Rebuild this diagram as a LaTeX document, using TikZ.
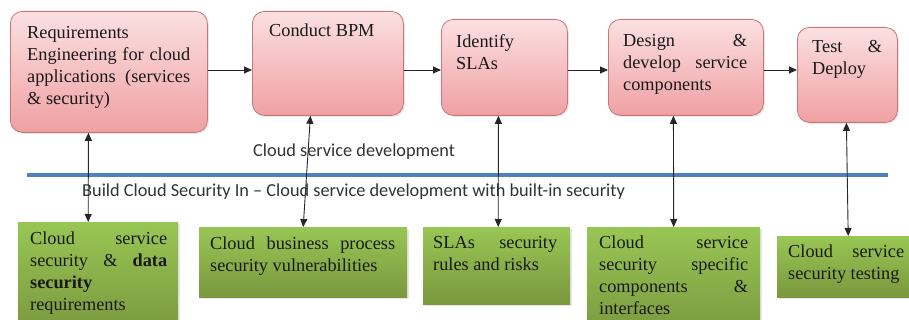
\documentclass[tikz,border=0pt]{standalone}
\usepackage{fontspec}
\setmainfont{Liberation Serif}
\newfontfamily\calibri{Carlito}
\usetikzlibrary{arrows.meta,shadows}

\definecolor{pinktop}{RGB}{251,224,225}
\definecolor{pinkbot}{RGB}{240,160,163}
\definecolor{pinkline}{RGB}{200,118,122}
\definecolor{greentop}{RGB}{152,198,84}
\definecolor{greenbot}{RGB}{122,152,62}
\definecolor{sepblue}{RGB}{79,129,189}

\tikzset{
  stepbox/.style={rounded corners=12pt, draw=pinkline, line width=0.8pt,
    top color=pinktop, bottom color=pinkbot, anchor=north west, inner sep=0pt,
    drop shadow={opacity=0.2, shadow xshift=1.5pt, shadow yshift=-1.5pt}},
  secbox/.style={top color=greentop, bottom color=greenbot, anchor=north west, inner sep=0pt,
    drop shadow={opacity=0.2, shadow xshift=1.5pt, shadow yshift=-1.5pt}},
  boxtxt/.style={font=\fontsize{18.3}{22}\selectfont,
    execute at begin node={\tolerance=10000\relax\hyphenpenalty=10000\relax},
    text width=#1, align=justify, inner sep=0pt, anchor=north west, text=black!90},
  note/.style={font=\calibri\fontsize{18.3}{22}\selectfont, inner sep=0pt, anchor=base west, text=black!80},
  flow/.style={->, line width=0.9pt, draw=black!85},
}

\begin{document}
\begin{tikzpicture}[x=1pt,y=-1pt,>={Triangle[length=8pt,width=7pt]}]
\useasboundingbox (0,0) rectangle (909,320);
\clip (0,0) rectangle (909,320);

% development steps
\node[stepbox, minimum width=197pt, minimum height=121pt,
  label={[boxtxt=163pt, xshift=17pt, yshift=-15pt]north west:{Requirements\\ Engineering for cloud\linebreak applications (services\linebreak \& security)}}]
  (req) at (10,11) {};
\node[stepbox, minimum width=151pt, minimum height=104pt,
  label={[boxtxt=120pt, xshift=17pt, yshift=-13pt]north west:{Conduct BPM}}]
  (bpm) at (252,11) {};
\node[stepbox, minimum width=126pt, minimum height=96pt,
  label={[boxtxt=90pt, xshift=15pt, yshift=-15pt]north west:{Identify\\ SLAs}}]
  (sla) at (441,19) {};
\node[stepbox, minimum width=155pt, minimum height=96pt,
  label={[boxtxt=124pt, xshift=15pt, yshift=-15pt]north west:{Design \&\linebreak develop service\linebreak components}}]
  (dev) at (608,19) {};
\node[stepbox, minimum width=100pt, minimum height=95pt,
  label={[boxtxt=70pt, xshift=15pt, yshift=-13pt]north west:{Test \&\linebreak Deploy}}]
  (tst) at (797,27) {};

% security activities
\node[secbox, minimum width=160pt, minimum height=110pt,
  label={[boxtxt=137pt, xshift=12pt, yshift=-10pt]north west:{Cloud service\linebreak security \& \textbf{data}\linebreak \textbf{security}\\ requirements}}]
  (g1) at (18,222) {};
\node[secbox, minimum width=208pt, minimum height=70pt,
  label={[boxtxt=185pt, xshift=11pt, yshift=-10pt]north west:{Cloud business process\linebreak security vulnerabilities}}]
  (g2) at (199,227) {};
\node[secbox, minimum width=147pt, minimum height=77pt,
  label={[boxtxt=124pt, xshift=10pt, yshift=-9pt]north west:{SLAs security\linebreak rules and risks}}]
  (g3) at (423,227) {};
\node[secbox, minimum width=173pt, minimum height=110pt,
  label={[boxtxt=149pt, xshift=12pt, yshift=-9pt]north west:{Cloud service\linebreak security specific\linebreak components \&\linebreak interfaces}}]
  (g4) at (587,227) {};
\node[secbox, minimum width=140pt, minimum height=61pt,
  label={[boxtxt=116pt, xshift=11pt, yshift=-9pt]north west:{Cloud service\linebreak security testing}}]
  (g5) at (777,236) {};

% separator
\draw[sepblue, line width=4pt] (27,175) -- (888,175);
\node[note] (devlbl) at (253,157) {Cloud service development};
\node[note] (seclbl) at (82,197) {Build Cloud Security In – Cloud service development with built-in security};

% arrows
\coordinate (flowy) at (0,70);
\draw[flow] (req.east |- flowy) -- (bpm.west |- flowy);
\draw[flow] (bpm.east |- flowy) -- (sla.west |- flowy);
\draw[flow] (sla.east |- flowy) -- (dev.west |- flowy);
\draw[flow] (dev.east |- flowy) -- (tst.west |- flowy);

\draw[flow, <->] ([xshift=-20.5pt]req.south) -- ([xshift=-10pt]g1.north);
\draw[flow, <->] ([xshift=-17.5pt]bpm.south) -- (g2.north);
\draw[flow, <->] ([xshift=-6pt]sla.south) -- ([xshift=1.5pt]g3.north);
\draw[flow, <->] ([xshift=-12.5pt]dev.south) -- (g4.north);
\draw[flow, <->] ([xshift=-1pt]tst.south) -- ([xshift=1pt]g5.north);
\end{tikzpicture}
\end{document}
